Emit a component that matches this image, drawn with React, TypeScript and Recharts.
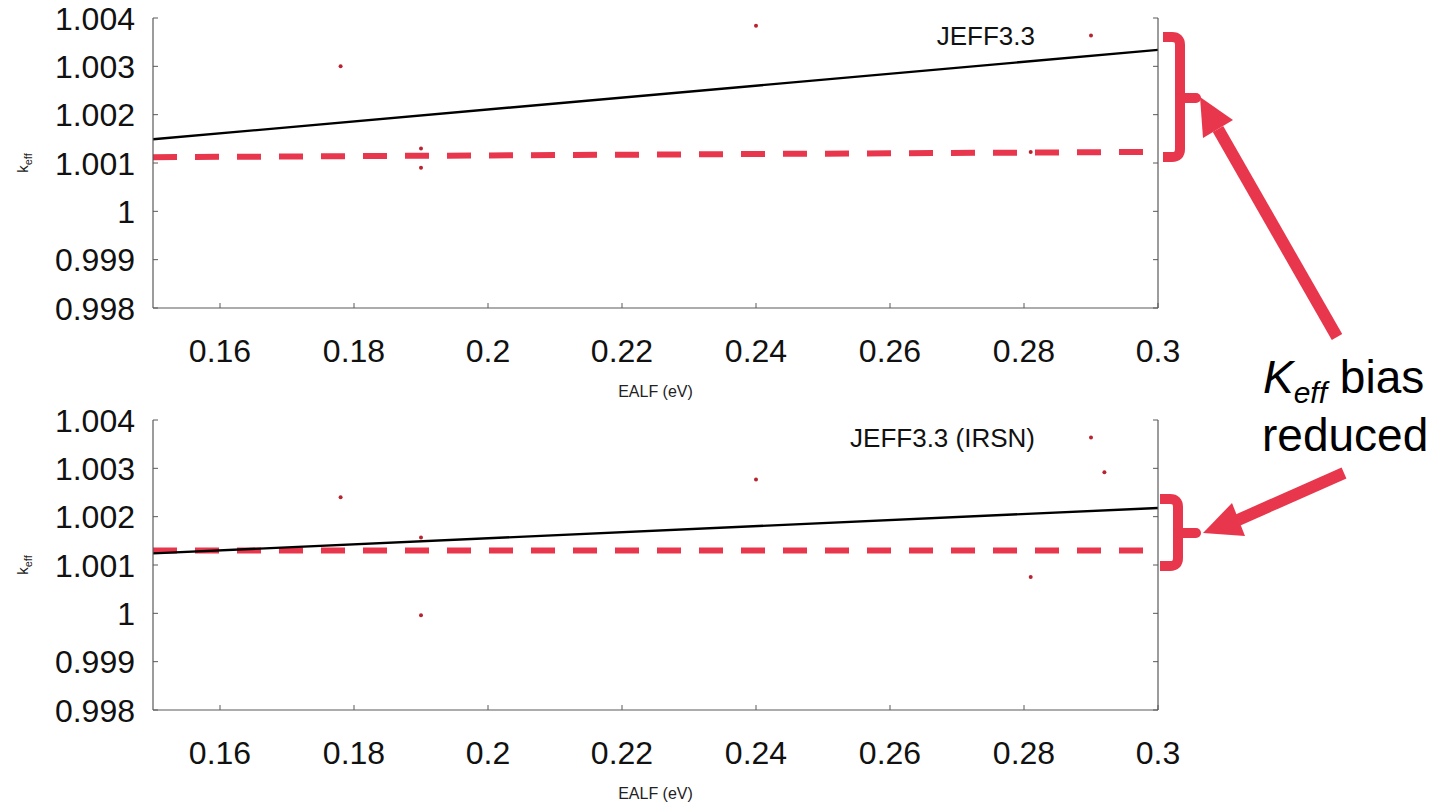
import {
  ComposedChart, Scatter, Line, XAxis, YAxis, ReferenceLine, ReferenceDot, Label,
} from 'recharts'

const X_TICKS = [0.16, 0.18, 0.2, 0.22, 0.24, 0.26, 0.28, 0.3]
const Y_TICKS = [0.998, 0.999, 1, 1.001, 1.002, 1.003, 1.004]

// JEFF3.3 (top panel)
const EALF_TOP = [0.178, 0.19, 0.19, 0.24, 0.281]
const KEFF_TOP = [1.003, 1.0013, 1.0009, 1.00384, 1.00123]
const FIT_X = [0.15, 0.3]
const FIT_TOP = [1.00149, 1.00334]
const BIAS_TOP = [1.00112, 1.00123]

// JEFF3.3 (IRSN) (bottom panel)
const EALF_BOTTOM = [0.178, 0.19, 0.19, 0.24, 0.281, 0.292]
const KEFF_BOTTOM = [1.0024, 1.00157, 0.99996, 1.00277, 1.00075, 1.00292]
const FIT_BOTTOM = [1.00124, 1.00218]
const BIAS_BOTTOM = [1.0013, 1.0013]

// legend key sample position
const KEY_X = 0.29
const KEY_Y = 1.00364

const FONT = '"Liberation Sans", Arial, Helvetica, sans-serif'
const FRAME = '#5a5a5a'
const RED = '#e8364c'
const DOT = '#b8232f'

const fmt = (v: number) => String(Number(v.toFixed(3)))

const LeftTick = (p: any) => (
  <g>
    <line x1={p.x} x2={p.x + 5} y1={p.y} y2={p.y} stroke={FRAME} strokeWidth={1} />
    <text x={p.x - 18} y={p.y + 11.5} textAnchor="end" fontSize={32} fill="#111" fontFamily={FONT}>
      {fmt(p.payload.value)}
    </text>
  </g>
)

const RightTick = (p: any) => (
  <line x1={p.x - 5} x2={p.x} y1={p.y} y2={p.y} stroke={FRAME} strokeWidth={1} />
)

const BottomTick = (p: any) => (
  <g>
    <line x1={p.x} x2={p.x} y1={p.y} y2={p.y - 5} stroke={FRAME} strokeWidth={1} />
    <text x={p.x} y={p.y + 54} textAnchor="middle" fontSize={32} fill="#111" fontFamily={FONT}>
      {fmt(p.payload.value)}
    </text>
  </g>
)

const TopTick = (p: any) => (
  <line x1={p.x} x2={p.x} y1={p.y} y2={p.y + 5} stroke={FRAME} strokeWidth={1} />
)

const KeffLabel = (p: any) => {
  const vb = p.viewBox || { x: 0, y: 18, width: 153, height: 290 }
  const cy = vb.y + vb.height / 2
  const cx = 28
  return (
    <text
      x={cx}
      y={cy}
      transform={`rotate(-90, ${cx}, ${cy})`}
      textAnchor="middle"
      fontSize={15}
      fill="#222"
      fontFamily={FONT}
    >
      k<tspan fontSize={11} dy={4}>eff</tspan>
    </text>
  )
}

interface PanelProps {
  ealf: number[]
  keff: number[]
  fit: number[]
  bias: number[]
  title: string
  top: number
  height: number
}

function Panel({ ealf, keff, fit, bias, title, top, height }: PanelProps) {
  const points = ealf.map((x, i) => ({ x, y: keff[i] }))
  const fitLine = FIT_X.map((x, i) => ({ x, y: fit[i] }))

  return (
    <div style={{ position: 'absolute', left: 0, top }}>
      <ComposedChart
        width={1180}
        height={height}
        margin={{ top: 18, right: 0, bottom: 0, left: 0 }}
        style={{ fontFamily: FONT }}
      >
        <XAxis
          xAxisId={0}
          dataKey="x"
          type="number"
          domain={[0.15, 0.3]}
          ticks={X_TICKS}
          allowDataOverflow
          height={height - 308}
          tickSize={0}
          tickMargin={0}
          tickLine={false}
          tick={<BottomTick />}
          axisLine={{ stroke: FRAME, strokeWidth: 1.2 }}
          interval={0}
        >
          <Label
            value="EALF (eV)"
            position="insideBottom"
            offset={height - 397}
            fontSize={16}
            fill="#222"
            fontFamily={FONT}
          />
        </XAxis>
        <XAxis
          xAxisId="top"
          orientation="top"
          type="number"
          domain={[0.15, 0.3]}
          ticks={X_TICKS}
          allowDataOverflow
          height={0}
          tickSize={0}
          tickMargin={0}
          tickLine={false}
          tick={<TopTick />}
          axisLine={{ stroke: FRAME, strokeWidth: 1.2 }}
          interval={0}
        />
        <YAxis
          yAxisId={0}
          dataKey="y"
          type="number"
          domain={[0.998, 1.004]}
          ticks={Y_TICKS}
          allowDataOverflow
          width={153}
          tickSize={0}
          tickMargin={0}
          tickLine={false}
          tick={<LeftTick />}
          axisLine={{ stroke: FRAME, strokeWidth: 1.2 }}
          interval={0}
          label={{ content: KeffLabel }}
        />
        <YAxis
          yAxisId="right"
          orientation="right"
          type="number"
          domain={[0.998, 1.004]}
          ticks={Y_TICKS}
          allowDataOverflow
          width={22}
          tickSize={0}
          tickMargin={0}
          tickLine={false}
          tick={<RightTick />}
          axisLine={{ stroke: FRAME, strokeWidth: 1.2 }}
          interval={0}
        />
        <ReferenceLine
          segment={[{ x: FIT_X[0], y: bias[0] }, { x: FIT_X[1], y: bias[1] }]}
          stroke={RED}
          strokeWidth={6}
          strokeDasharray="24 18"
          ifOverflow="visible"
        />
        <Line
          data={fitLine}
          dataKey="y"
          stroke="#000"
          strokeWidth={2.4}
          dot={false}
          activeDot={false}
          isAnimationActive={false}
        />
        <Scatter
          data={points}
          dataKey="y"
          fill={DOT}
          isAnimationActive={false}
          shape={(s: any) => <circle cx={s.cx} cy={s.cy} r={2} fill={DOT} />}
        />
        <ReferenceDot x={KEY_X} y={KEY_Y} r={2} fill={DOT} stroke="none" ifOverflow="visible">
          <Label value={title} position="left" offset={54} fontSize={26} fill="#111" fontFamily={FONT} />
        </ReferenceDot>
      </ComposedChart>
    </div>
  )
}

function Annotations() {
  return (
    <svg
      width={1440}
      height={803}
      style={{ position: 'absolute', left: 0, top: 0, pointerEvents: 'none' }}
    >
      <g fill="none" stroke={RED} strokeWidth={10}>
        <path d="M1163,37 H1172 Q1180,37 1180,45 V149 Q1180,157 1172,157 H1163" />
        <path d="M1180,98 H1196" strokeLinecap="round" />
        <path d="M1160,499 H1170 Q1178,499 1178,507 V558 Q1178,566 1170,566 H1160" />
        <path d="M1178,533 H1196" strokeLinecap="round" />
      </g>
      <line x1={1337} y1={337} x2={1218} y2={129} stroke={RED} strokeWidth={12} />
      <polygon points="1200,97 1233,120 1203,138" fill={RED} />
      <line x1={1344} y1={473} x2={1238} y2={520} stroke={RED} strokeWidth={12} />
      <polygon points="1203,533 1232,503 1245,536" fill={RED} />
      <g fontFamily={FONT} fill="#000">
        <text x={1263} y={393} fontSize={46}>
          <tspan fontStyle="italic">K</tspan>
          <tspan fontStyle="italic" fontSize={30} dy={10}>eff</tspan>
          <tspan dy={-10}> bias</tspan>
        </text>
        <text x={1262} y={451} fontSize={46}>reduced</text>
      </g>
    </svg>
  )
}

export default function App() {
  return (
    <div style={{ position: 'absolute', left: 0, top: 0, width: 1440, height: 803, background: '#fff' }}>
      <Panel ealf={EALF_TOP} keff={KEFF_TOP} fit={FIT_TOP} bias={BIAS_TOP} title="JEFF3.3" top={0} height={400} />
      <Panel
        ealf={EALF_BOTTOM}
        keff={KEFF_BOTTOM}
        fit={FIT_BOTTOM}
        bias={BIAS_BOTTOM}
        title="JEFF3.3 (IRSN)"
        top={402}
        height={401}
      />
      <Annotations />
    </div>
  )
}
